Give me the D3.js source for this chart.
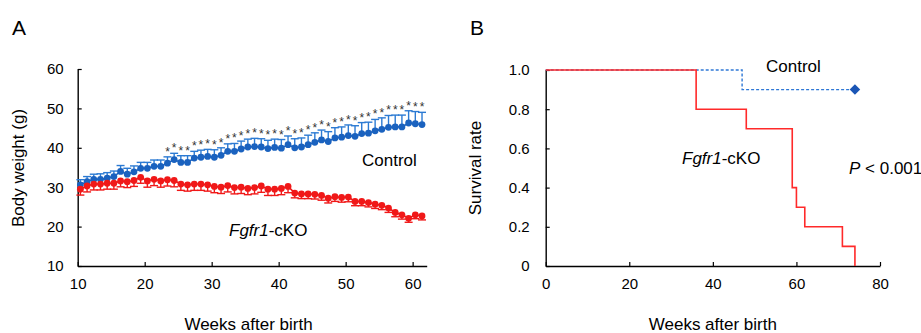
<!DOCTYPE html>
<html><head><meta charset="utf-8">
<script src="https://cdn.jsdelivr.net/npm/d3@7"></script>
<style>
body{margin:0;background:#fff;}
svg{display:block;font-family:"Liberation Sans",Arial,sans-serif;}
</style></head><body>
<svg id="c" width="921" height="333"></svg>
<script>
// ---------- Panel A data ----------
const weeks = [10.4,11.4,12.4,13.4,14.4,15.4,16.4,17.4,18.4,19.4,
  20.4,21.4,22.4,23.4,24.4,25.4,26.4,27.4,28.4,29.4,
  30.4,31.4,32.4,33.4,34.4,35.4,36.4,37.4,38.4,39.4,
  40.4,41.4,42.4,43.4,44.4,45.4,46.4,47.4,48.4,49.4,
  50.4,51.4,52.4,53.4,54.4,55.4,56.4,57.4,58.4,59.4,
  60.4,61.4];
const controlMean = [30.6,31.4,32.0,32.0,32.3,32.7,34.0,33.3,33.9,34.8,
  34.8,35.3,35.3,36.1,37.0,36.3,36.3,37.4,37.6,37.8,
  37.6,38.1,39.1,39.1,39.7,40.2,40.3,40.2,39.8,40.1,
  39.9,40.8,40.0,40.2,40.8,41.4,42.0,41.6,42.5,42.7,
  43.1,42.9,43.6,43.7,44.3,44.7,45.2,45.3,45.3,46.3,
  46.1,45.9];
const controlSE = [1.3,1.3,1.3,1.4,1.4,1.4,1.5,1.5,1.5,1.5,
  1.5,1.6,1.6,1.6,1.6,1.7,1.7,1.7,1.8,1.8,
  1.9,1.9,1.9,2.0,2.0,2.0,2.1,2.1,2.1,2.1,
  2.2,2.2,2.3,2.3,2.4,2.4,2.5,2.5,2.6,2.6,
  2.7,2.7,2.8,2.8,2.9,2.9,3.0,3.0,3.0,3.1,
  3.1,3.1];
const koMean = [29.5,30.3,30.8,30.8,31.0,31.0,31.6,31.4,31.7,32.5,
  31.6,32.0,31.6,31.9,31.7,30.8,30.6,30.8,30.8,30.6,
  30.2,30.0,30.4,29.9,30.0,29.7,29.9,30.3,29.5,29.5,
  29.7,30.2,28.5,28.3,28.3,28.2,27.9,27.2,27.6,27.4,
  27.5,26.4,26.4,26.1,25.7,25.4,24.7,23.6,23.0,22.1,
  23.0,22.7];
const koSE = [1.5,1.5,1.5,1.5,1.5,1.5,1.5,1.5,1.5,1.5,
  1.6,1.6,1.6,1.6,1.6,1.6,1.6,1.6,1.6,1.6,
  1.6,1.6,1.6,1.6,1.6,1.6,1.6,1.6,1.6,1.6,
  1.6,1.6,1.2,1.2,1.2,1.2,1.2,1.2,1.2,1.2,
  1.2,1.1,1.1,1.1,1.1,1.1,1.1,1.1,1.1,1.0,
  1.0,1.0];
const sigLabels = ["","","","","","","","","","",
  "","","","*","*","*","*","*","*","*",
  "*","*","*","*","*","*","*","*","*","*",
  "*","*","*","*","*","*","*","*","*","*",
  "*","*","*","*","*","*","*","*","*","*",
  "*","*"];
const xTicksA = [10,20,30,40,50,60];
const yTicksA = [10,20,30,40,50,60];

// ---------- Panel B data ----------
const ctrlSurvTime = [0,47,47,74];
const ctrlSurvRate = [1.0,1.0,0.9,0.9];
const koSurvTime = [0,36,36,48,48,59,59,60,60,62,62,71,71,74,74];
const koSurvRate = [1.0,1.0,0.8,0.8,0.7,0.7,0.4,0.4,0.3,0.3,0.2,0.2,0.1,0.1,0];
const xTicksB = [0,20,40,60,80];
const yTicksB = [0,0.2,0.4,0.6,0.8,1.0];

const svg = d3.select("#c");
const BLUE = "#1a62bf", BLUE_ERR = "#2b7ad3", RED = "#f01818";

function styleAxis(g){
  g.select(".domain").attr("stroke","#000").attr("stroke-width",1.4);
  g.selectAll(".tick line").attr("stroke","#000").attr("stroke-width",1.2);
  g.selectAll("text").attr("font-size",15).attr("fill","#000").attr("font-family","Liberation Sans, Arial");
}

// ---------- Panel A ----------
const xA = d3.scaleLinear().domain([10,62.1]).range([77.7,426.7]);
const yA = d3.scaleLinear().domain([10,60]).range([266,69]);
const gA = svg.append("g");

gA.append("g").attr("transform","translate(0,266)")
  .call(d3.axisBottom(xA).tickValues(xTicksA).tickSizeInner(-4).tickSizeOuter(0).tickPadding(12))
  .call(styleAxis);
gA.append("g").attr("transform","translate(77.7,0)")
  .call(d3.axisLeft(yA).tickValues(yTicksA).tickSizeInner(-4).tickSizeOuter(0).tickPadding(14))
  .call(styleAxis);

const dataA = weeks.map((w,i)=>({w, c:controlMean[i], ce:controlSE[i], k:koMean[i], ke:koSE[i], s:sigLabels[i]}));
const cap = 4;
const eC = gA.append("g").attr("stroke",BLUE_ERR).attr("stroke-width",1.4);
eC.selectAll("line.v").data(dataA).join("line")
  .attr("x1",d=>xA(d.w)).attr("x2",d=>xA(d.w)).attr("y1",d=>yA(d.c)).attr("y2",d=>yA(d.c+d.ce));
eC.selectAll("line.h").data(dataA).join("line").attr("class","h")
  .attr("x1",d=>xA(d.w)-cap).attr("x2",d=>xA(d.w)+cap).attr("y1",d=>yA(d.c+d.ce)).attr("y2",d=>yA(d.c+d.ce));
const eK = gA.append("g").attr("stroke",RED).attr("stroke-width",1.4);
eK.selectAll("line.v").data(dataA).join("line")
  .attr("x1",d=>xA(d.w)).attr("x2",d=>xA(d.w)).attr("y1",d=>yA(d.k)).attr("y2",d=>yA(d.k-d.ke));
eK.selectAll("line.h").data(dataA).join("line").attr("class","h")
  .attr("x1",d=>xA(d.w)-cap).attr("x2",d=>xA(d.w)+cap).attr("y1",d=>yA(d.k-d.ke)).attr("y2",d=>yA(d.k-d.ke));

gA.append("path").datum(dataA).attr("fill","none").attr("stroke",BLUE).attr("stroke-width",1.6)
  .attr("d",d3.line().x(d=>xA(d.w)).y(d=>yA(d.c)));
gA.append("path").datum(dataA).attr("fill","none").attr("stroke",RED).attr("stroke-width",1.6)
  .attr("d",d3.line().x(d=>xA(d.w)).y(d=>yA(d.k)));
gA.append("g").selectAll("circle").data(dataA).join("circle")
  .attr("cx",d=>xA(d.w)).attr("cy",d=>yA(d.c)).attr("r",3.4).attr("fill",BLUE);
gA.append("g").selectAll("circle").data(dataA).join("circle")
  .attr("cx",d=>xA(d.w)).attr("cy",d=>yA(d.k)).attr("r",3.4).attr("fill",RED);
gA.append("g").selectAll("text").data(dataA.filter(d=>d.s)).join("text")
  .attr("x",d=>xA(d.w)).attr("y",d=>yA(d.c+d.ce)-1)
  .attr("text-anchor","middle").attr("font-size",12).attr("fill","#333").text(d=>d.s);

gA.append("text").attr("x",12).attr("y",35).attr("font-size",21).text("A");
gA.append("text").attr("transform","translate(24,168) rotate(-90)").attr("text-anchor","middle")
  .attr("font-size",17).text("Body weight (g)");
gA.append("text").attr("x",xA(35.5)).attr("y",330).attr("text-anchor","middle").attr("font-size",17).text("Weeks after birth");
gA.append("text").attr("x",362).attr("y",166).attr("font-size",17).text("Control");
const tA = gA.append("text").attr("x",229).attr("y",236).attr("font-size",17);
tA.append("tspan").attr("font-style","italic").text("Fgfr1");
tA.append("tspan").text("-cKO");

// ---------- Panel B ----------
const xB = d3.scaleLinear().domain([0,80]).range([545.7,880]);
const yB = d3.scaleLinear().domain([0,1]).range([266,70]);
const gB = svg.append("g");
gB.append("g").attr("transform","translate(0,266)")
  .call(d3.axisBottom(xB).tickValues(xTicksB).tickSizeInner(-4).tickSizeOuter(0).tickPadding(12))
  .call(styleAxis);
gB.append("g").attr("transform","translate(545.7,0)")
  .call(d3.axisLeft(yB).tickValues(yTicksB).tickFormat(d=>d===0?"0":d3.format(".1f")(d))
    .tickSizeInner(-4).tickSizeOuter(0).tickPadding(16))
  .call(styleAxis);

const ctrlPts = ctrlSurvTime.map((t,i)=>[t,ctrlSurvRate[i]]);
const koPts = koSurvTime.map((t,i)=>[t,koSurvRate[i]]);
gB.append("path").datum(ctrlPts).attr("fill","none").attr("stroke","#2f78d6").attr("stroke-width",1.4)
  .attr("stroke-dasharray","3,2").attr("d",d3.line().x(d=>xB(d[0])).y(d=>yB(d[1])));
gB.append("path").datum(koPts).attr("fill","none").attr("stroke","#ff2a2a").attr("stroke-width",1.6)
  .attr("d",d3.line().x(d=>xB(d[0])).y(d=>yB(d[1])));
gB.append("path").attr("d",d3.symbol(d3.symbolDiamond2,70)())
  .attr("transform",`translate(${xB(74)},${yB(0.9)})`).attr("fill","#1a55b5");

gB.append("text").attr("x",470).attr("y",35).attr("font-size",21).text("B");
gB.append("text").attr("transform","translate(481,168) rotate(-90)").attr("text-anchor","middle")
  .attr("font-size",17).text("Survival rate");
gB.append("text").attr("x",xB(40)).attr("y",330).attr("text-anchor","middle").attr("font-size",17).text("Weeks after birth");
gB.append("text").attr("x",766).attr("y",72).attr("font-size",17).text("Control");
const tB = gB.append("text").attr("x",682).attr("y",164).attr("font-size",17);
tB.append("tspan").attr("font-style","italic").text("Fgfr1");
tB.append("tspan").text("-cKO");
const tP = gB.append("text").attr("x",849).attr("y",174).attr("font-size",17);
tP.append("tspan").attr("font-style","italic").text("P");
tP.append("tspan").text(" < 0.001");
</script></body></html>
